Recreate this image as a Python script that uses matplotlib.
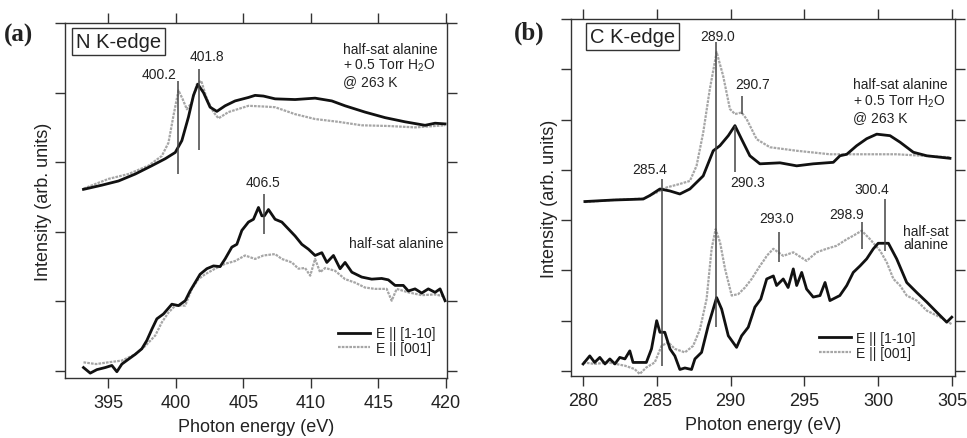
import numpy as np
import matplotlib
matplotlib.use("Agg")
import matplotlib.pyplot as plt

plt.rcParams['font.family'] = ['Liberation Sans', 'DejaVu Sans']
plt.rcParams['mathtext.fontset'] = 'custom'
plt.rcParams['mathtext.rm'] = 'Liberation Sans'

# ---------------- panel (a): N K-edge ----------------
# hydrated, E || [1-10]
a_hyd_blk_e = [393.17, 394.53, 395.76, 397.0, 398.23, 399.22, 399.96, 400.45, 400.94, 401.31,
               401.63, 402.05, 402.54, 403.04, 403.65, 404.39, 405.38, 405.87, 406.49, 407.35,
               408.83, 410.31, 411.55, 412.53, 414.0, 415.49, 416.97, 418.45, 419.19, 419.93]
a_hyd_blk_i = [2.61, 2.67, 2.73, 2.83, 2.95, 3.05, 3.14, 3.31, 3.65, 3.96,
               4.12, 4.00, 3.79, 3.73, 3.81, 3.88, 3.93, 3.96, 3.95, 3.91,
               3.90, 3.92, 3.88, 3.81, 3.72, 3.64, 3.58, 3.53, 3.56, 3.55]
# hydrated, E || [001]
a_hyd_gry_e = [393.17, 395.02, 396.5, 397.98, 398.97, 399.46, 399.83, 400.2, 400.5, 400.82,
               401.19, 401.56, 401.88, 402.3, 402.79, 403.16, 403.9, 405.38, 406.49, 407.35,
               408.83, 410.31, 412.03, 413.76, 415.73, 417.71, 419.93]
a_hyd_gry_i = [2.62, 2.76, 2.83, 2.95, 3.09, 3.28, 3.67, 4.03, 3.91, 3.76,
               3.86, 4.12, 4.17, 3.91, 3.72, 3.63, 3.72, 3.81, 3.80, 3.79,
               3.69, 3.62, 3.58, 3.53, 3.52, 3.50, 3.53]
# dry, E || [1-10]
a_dry_blk_e = [393.17, 393.67, 394.16, 394.78, 395.27, 395.64, 396.01, 396.5, 397.0, 397.49,
               397.86, 398.23, 398.6, 399.09, 399.71, 400.2, 400.7, 401.06, 401.43, 401.8,
               402.3, 402.79, 403.28, 403.65, 404.15, 404.52, 404.89, 405.38, 405.75, 406.12,
               406.37, 406.56, 406.86, 407.35, 407.85, 408.34, 408.83, 409.33, 409.82, 410.31,
               410.81, 411.18, 411.67, 412.16, 412.53, 413.03, 413.76, 414.5, 415.24, 415.73,
               416.23, 416.84, 417.21, 417.71, 418.2, 418.69, 419.19, 419.56, 419.93]
a_dry_blk_i = [0.05, -0.03, 0.02, 0.05, 0.08, -0.01, 0.10, 0.17, 0.24, 0.32,
               0.44, 0.60, 0.75, 0.82, 0.96, 0.94, 1.01, 1.15, 1.27, 1.39,
               1.47, 1.51, 1.50, 1.61, 1.78, 1.82, 2.02, 2.14, 2.18, 2.35,
               2.23, 2.23, 2.32, 2.18, 2.14, 2.04, 1.94, 1.82, 1.75, 1.66,
               1.70, 1.56, 1.66, 1.47, 1.56, 1.42, 1.35, 1.32, 1.33, 1.31,
               1.23, 1.23, 1.15, 1.18, 1.12, 1.18, 1.13, 1.18, 1.01]
# dry, E || [001]
a_dry_gry_e = [393.17, 394.1, 395.0, 396.01, 397.0, 397.74, 398.48, 398.97, 399.46, 399.96,
               400.7, 401.19, 401.68, 402.17, 402.91, 403.65, 404.39, 405.13, 405.87, 406.49,
               407.35, 407.85, 408.59, 409.08, 409.57, 409.95, 410.31, 410.68, 411.06, 411.79,
               412.53, 413.27, 414.0, 414.74, 415.61, 415.98, 416.35, 417.21, 418.2, 419.19, 419.93]
a_dry_gry_i = [0.125, 0.10, 0.125, 0.15, 0.24, 0.36, 0.51, 0.70, 0.84, 0.94,
               0.94, 1.18, 1.32, 1.39, 1.47, 1.54, 1.58, 1.66, 1.61, 1.66,
               1.68, 1.61, 1.56, 1.47, 1.48, 1.37, 1.61, 1.42, 1.48, 1.44,
               1.32, 1.27, 1.20, 1.18, 1.18, 1.01, 1.18, 1.13, 1.09, 1.10, 1.07]

a_peaks = [400.2, 401.75, 406.5]
a_peak_lo = [2.83, 3.17, 1.97]
a_peak_hi = [4.17, 4.34, 2.54]
a_peak_lbl = ['400.2', '401.8', '406.5']
a_lbl_x = [398.77, 402.32, 406.46]
a_lbl_y = [4.27, 4.53, 2.72]

# ---------------- panel (b): C K-edge ----------------
b_hyd_blk_e = [280.14, 282.05, 284.09, 284.54, 285.22, 285.9, 286.57, 287.25, 288.15, 288.83,
               289.28, 289.85, 290.3, 290.75, 291.31, 291.99, 293.35, 294.48, 295.6, 296.96,
               297.41, 297.87, 298.54, 299.22, 299.9, 300.8, 301.48, 302.38, 303.29, 304.86]
b_hyd_blk_i = [3.37, 3.40, 3.42, 3.49, 3.62, 3.58, 3.52, 3.62, 3.88, 4.38,
               4.48, 4.68, 4.88, 4.61, 4.28, 4.12, 4.14, 4.08, 4.12, 4.15,
               4.28, 4.31, 4.48, 4.62, 4.71, 4.68, 4.55, 4.35, 4.28, 4.23]
b_hyd_gry_e = [280.14, 282.05, 284.09, 285.0, 285.67, 286.57, 287.25, 287.7, 288.15, 288.6,
               289.06, 289.5, 289.96, 290.3, 290.75, 291.09, 291.77, 292.67, 294.48, 296.73,
               298.99, 301.25, 304.86]
b_hyd_gry_i = [3.36, 3.40, 3.43, 3.55, 3.65, 3.72, 3.78, 4.08, 4.74, 5.61,
               6.34, 5.87, 5.21, 5.11, 5.14, 5.01, 4.61, 4.45, 4.38, 4.31,
               4.31, 4.31, 4.25]
b_dry_blk_e = [280.02, 280.47, 280.8, 281.15, 281.5, 281.83, 282.17, 282.5, 282.85, 283.18,
               283.4, 284.3, 284.65, 285.0, 285.22, 285.55, 285.9, 286.23, 286.57, 286.91,
               287.36, 287.59, 288.04, 288.49, 289.06, 289.4, 289.85, 290.41, 290.75, 291.2,
               291.65, 292.05, 292.45, 292.9, 293.12, 293.57, 293.9, 294.25, 294.48, 294.82,
               295.15, 295.6, 296.06, 296.4, 296.73, 297.4, 297.87, 298.31, 298.77, 299.22,
               299.67, 300.0, 300.69, 301.25, 301.93, 302.61, 303.29, 303.96, 304.64, 304.98]
b_dry_blk_i = [0.14, 0.30, 0.17, 0.27, 0.14, 0.24, 0.14, 0.27, 0.24, 0.40,
               0.17, 0.17, 0.44, 1.00, 0.77, 0.77, 0.44, 0.30, 0.03, 0.06,
               0.03, 0.24, 0.37, 0.90, 1.46, 1.23, 0.70, 0.47, 0.70, 0.87,
               1.27, 1.43, 1.83, 1.89, 1.70, 1.83, 1.66, 2.03, 1.70, 1.96,
               1.63, 1.47, 1.50, 1.76, 1.40, 1.50, 1.70, 1.96, 2.09, 2.23,
               2.43, 2.54, 2.54, 2.23, 1.76, 1.56, 1.37, 1.17, 0.97, 1.07]
b_dry_gry_e = [280.02, 280.8, 281.7, 282.85, 283.5, 283.85, 284.3, 284.87, 285.33, 285.78,
               286.23, 286.91, 287.47, 287.93, 288.38, 288.72, 288.99, 289.29, 289.63, 290.08,
               290.53, 290.98, 291.43, 291.99, 292.33, 292.45, 292.9, 293.57, 294.25, 295.15,
               295.83, 296.5, 297.18, 297.87, 298.31, 298.88, 299.45, 300.13, 300.58, 301.03,
               301.48, 301.93, 302.61, 303.29, 304.19, 304.98]
b_dry_gry_i = [0.17, 0.14, 0.17, 0.105, 0.04, -0.06, 0.07, 0.17, 0.50, 0.57,
               0.44, 0.37, 0.50, 0.83, 1.43, 2.43, 2.82, 2.56, 2.03, 1.50,
               1.53, 1.66, 1.83, 2.09, 2.23, 2.29, 2.43, 2.29, 2.36, 2.19,
               2.36, 2.43, 2.49, 2.62, 2.69, 2.79, 2.62, 2.39, 2.16, 1.83,
               1.70, 1.50, 1.40, 1.20, 1.07, 0.93]

b_peaks = [285.35, 289.05, 290.75, 290.3, 293.3, 298.9, 300.46]
b_peak_lo = [0.105, 0.87, 5.11, 3.95, 2.17, 2.43, 2.39]
b_peak_hi = [3.82, 6.54, 5.47, 4.88, 2.76, 2.96, 3.42]
b_peak_lbl = ['285.4', '289.0', '290.7', '290.3', '293.0', '298.9', '300.4']
b_lbl_x = [284.54, 289.15, 291.52, 291.18, 293.14, 297.89, 299.58]
b_lbl_y = [4.02, 6.66, 5.71, 3.76, 3.04, 3.12, 3.62]

BLK = '#111111'
GRY = '#a6a6a6'
TXT = '#222222'
FRAME = '#333333'
GRY_LS = (0, (1.2, 0.5))

fig = plt.figure(figsize=(9.67, 4.39), dpi=100)
axa = fig.add_axes([0.0672, 0.1367, 0.395, 0.8087])
axb = fig.add_axes([0.5905, 0.1412, 0.3971, 0.8132])


def style(ax, xlim, ylim, xticks, nyt):
    ax.set_xlim(*xlim)
    ax.set_ylim(*ylim)
    ax.set_xticks(xticks)
    ax.set_yticks(range(nyt))
    ax.set_yticklabels([])
    ax.tick_params(direction='out', length=7.5, width=1, color=FRAME,
                   top=True, right=True, labelsize=13, labelcolor=TXT, pad=4)
    for s in ax.spines.values():
        s.set_color(FRAME)
        s.set_linewidth(1)
    ax.set_xlabel('Photon energy (eV)', fontsize=13, color=TXT, labelpad=5)
    ax.set_ylabel('Intensity (arb. units)', fontsize=13, color=TXT, labelpad=-2)


def draw(ax, curves, peaks, lo, hi, lbls, lx, ly):
    for e, i, c in curves:
        if c == BLK:
            ax.plot(e, i, color=BLK, lw=2.0, zorder=3)
        else:
            ax.plot(e, i, color=GRY, lw=1.6, ls=GRY_LS, zorder=2)
    ax.vlines(peaks, lo, hi, color='#444444', lw=1.1, zorder=4)
    for t, x, y in zip(lbls, lx, ly):
        ax.text(x, y, t, fontsize=10, color=TXT, ha='center', va='center')


style(axa, (391.8, 420.07), (-0.1, 5.0), [395, 400, 405, 410, 415, 420], 6)
draw(axa, [(a_hyd_gry_e, a_hyd_gry_i, GRY), (a_hyd_blk_e, a_hyd_blk_i, BLK),
           (a_dry_gry_e, a_dry_gry_i, GRY), (a_dry_blk_e, a_dry_blk_i, BLK)],
     a_peaks, a_peak_lo, a_peak_hi, a_peak_lbl, a_lbl_x, a_lbl_y)

style(axb, (279.2, 305.2), (-0.1, 7.0), [280, 285, 290, 295, 300, 305], 8)
draw(axb, [(b_hyd_gry_e, b_hyd_gry_i, GRY), (b_hyd_blk_e, b_hyd_blk_i, BLK),
           (b_dry_gry_e, b_dry_gry_i, GRY), (b_dry_blk_e, b_dry_blk_i, BLK)],
     b_peaks, b_peak_lo, b_peak_hi, b_peak_lbl, b_lbl_x, b_lbl_y)

box = dict(boxstyle='square,pad=0.2', fc='white', ec=FRAME, lw=1)
axa.text(395.74, 4.73, 'N K-edge', fontsize=14.5, color=TXT, ha='center', va='center', bbox=box)
axb.text(283.39, 6.66, 'C K-edge', fontsize=14.5, color=TXT, ha='center', va='center', bbox=box)

for ax, x, ys, lines in [
        (axa, 412.38, [4.63, 4.40, 4.17], ['half-sat alanine', '+ 0.5 Torr H$_2$O', '@ 263 K']),
        (axa, 412.83, [1.84], ['half-sat alanine']),
        (axb, 298.29, [5.71, 5.38, 5.05], ['half-sat alanine', '+ 0.5 Torr H$_2$O', '@ 263 K']),
        (axb, 301.68, [2.78, 2.52], ['half-sat', 'alanine'])]:
    for y, t in zip(ys, lines):
        ax.text(x, y, t, fontsize=10, color=TXT, ha='left', va='center')

for ax, anchor in [(axa, (0.715, 0.105)), (axb, (0.645, 0.085))]:
    h1, = ax.plot([], [], color=BLK, lw=2.0)
    h2, = ax.plot([], [], color=GRY, lw=1.6, ls=GRY_LS)
    ax.legend([h1, h2], ['E || [1-10]', 'E || [001]'], loc='center left',
              bbox_to_anchor=anchor, frameon=False, fontsize=10, handlelength=2.3,
              handletextpad=0.4, labelspacing=0.05, borderpad=0, borderaxespad=0,
              labelcolor=TXT)

fig.text(0.004, 0.92, '(a)', fontsize=18, fontweight='bold', family='Liberation Serif',
         color=TXT, va='center')
fig.text(0.531, 0.925, '(b)', fontsize=18, fontweight='bold', family='Liberation Serif',
         color=TXT, va='center')

fig.savefig('out.png', dpi=100, facecolor='white')
